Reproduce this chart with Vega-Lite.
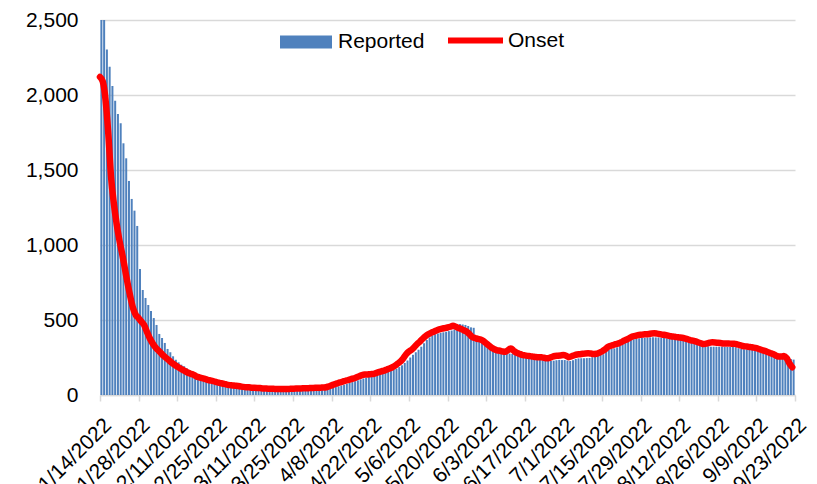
{
  "$schema": "https://vega.github.io/schema/vega-lite/v6.json",
  "width": 695,
  "height": 375,
  "autosize": "none",
  "padding": {"left": 100, "top": 20, "right": 22, "bottom": 89},
  "background": "white",
  "config": {"view": {"stroke": null}, "font": "Liberation Sans"},
  "data": {"values": [
    {"date":"2022/01/14","reported":2650,"onset":2120},
    {"date":"2022/01/15","reported":2560,"onset":2090},
    {"date":"2022/01/16","reported":2304,"onset":1970},
    {"date":"2022/01/17","reported":2189,"onset":1745},
    {"date":"2022/01/18","reported":2060,"onset":1455},
    {"date":"2022/01/19","reported":1962,"onset":1280},
    {"date":"2022/01/20","reported":1873,"onset":1145},
    {"date":"2022/01/21","reported":1811,"onset":1035},
    {"date":"2022/01/22","reported":1678,"onset":945},
    {"date":"2022/01/23","reported":1578,"onset":845},
    {"date":"2022/01/24","reported":1427,"onset":745},
    {"date":"2022/01/25","reported":1307,"onset":655},
    {"date":"2022/01/26","reported":1229,"onset":578},
    {"date":"2022/01/27","reported":1127,"onset":533},
    {"date":"2022/01/28","reported":840,"onset":513},
    {"date":"2022/01/29","reported":700,"onset":489},
    {"date":"2022/01/30","reported":647,"onset":467},
    {"date":"2022/01/31","reported":600,"onset":422},
    {"date":"2022/02/01","reported":560,"onset":380},
    {"date":"2022/02/02","reported":513,"onset":347},
    {"date":"2022/02/03","reported":467,"onset":320},
    {"date":"2022/02/04","reported":407,"onset":300},
    {"date":"2022/02/05","reported":380,"onset":282},
    {"date":"2022/02/06","reported":347,"onset":262},
    {"date":"2022/02/07","reported":307,"onset":247},
    {"date":"2022/02/08","reported":285,"onset":232},
    {"date":"2022/02/09","reported":258,"onset":215},
    {"date":"2022/02/10","reported":235,"onset":202},
    {"date":"2022/02/11","reported":218,"onset":190},
    {"date":"2022/02/12","reported":202,"onset":178},
    {"date":"2022/02/13","reported":192,"onset":168},
    {"date":"2022/02/14","reported":178,"onset":158},
    {"date":"2022/02/15","reported":166,"onset":148},
    {"date":"2022/02/16","reported":156,"onset":141},
    {"date":"2022/02/17","reported":148,"onset":134},
    {"date":"2022/02/18","reported":140,"onset":124},
    {"date":"2022/02/19","reported":133,"onset":118},
    {"date":"2022/02/20","reported":127,"onset":113},
    {"date":"2022/02/21","reported":118,"onset":108},
    {"date":"2022/02/22","reported":108,"onset":101},
    {"date":"2022/02/23","reported":102,"onset":97},
    {"date":"2022/02/24","reported":97,"onset":93},
    {"date":"2022/02/25","reported":90,"onset":88},
    {"date":"2022/02/26","reported":85,"onset":82},
    {"date":"2022/02/27","reported":80,"onset":78},
    {"date":"2022/02/28","reported":76,"onset":74},
    {"date":"2022/03/01","reported":71,"onset":69},
    {"date":"2022/03/02","reported":67,"onset":66},
    {"date":"2022/03/03","reported":64,"onset":64},
    {"date":"2022/03/04","reported":61,"onset":62},
    {"date":"2022/03/05","reported":58,"onset":60},
    {"date":"2022/03/06","reported":56,"onset":57},
    {"date":"2022/03/07","reported":54,"onset":54},
    {"date":"2022/03/08","reported":52,"onset":52},
    {"date":"2022/03/09","reported":50,"onset":51},
    {"date":"2022/03/10","reported":48,"onset":49},
    {"date":"2022/03/11","reported":47,"onset":48},
    {"date":"2022/03/12","reported":46,"onset":47},
    {"date":"2022/03/13","reported":44,"onset":46},
    {"date":"2022/03/14","reported":43,"onset":44},
    {"date":"2022/03/15","reported":42,"onset":43},
    {"date":"2022/03/16","reported":41,"onset":42},
    {"date":"2022/03/17","reported":40,"onset":42},
    {"date":"2022/03/18","reported":40,"onset":41},
    {"date":"2022/03/19","reported":39,"onset":40},
    {"date":"2022/03/20","reported":38,"onset":40},
    {"date":"2022/03/21","reported":38,"onset":40},
    {"date":"2022/03/22","reported":38,"onset":40},
    {"date":"2022/03/23","reported":38,"onset":40},
    {"date":"2022/03/24","reported":39,"onset":41},
    {"date":"2022/03/25","reported":39,"onset":42},
    {"date":"2022/03/26","reported":39,"onset":43},
    {"date":"2022/03/27","reported":40,"onset":43},
    {"date":"2022/03/28","reported":40,"onset":44},
    {"date":"2022/03/29","reported":40,"onset":45},
    {"date":"2022/03/30","reported":41,"onset":45},
    {"date":"2022/03/31","reported":41,"onset":46},
    {"date":"2022/04/01","reported":42,"onset":47},
    {"date":"2022/04/02","reported":42,"onset":48},
    {"date":"2022/04/03","reported":43,"onset":48},
    {"date":"2022/04/04","reported":43,"onset":49},
    {"date":"2022/04/05","reported":44,"onset":50},
    {"date":"2022/04/06","reported":45,"onset":52},
    {"date":"2022/04/07","reported":47,"onset":58},
    {"date":"2022/04/08","reported":50,"onset":64},
    {"date":"2022/04/09","reported":54,"onset":72},
    {"date":"2022/04/10","reported":58,"onset":78},
    {"date":"2022/04/11","reported":63,"onset":84},
    {"date":"2022/04/12","reported":68,"onset":89},
    {"date":"2022/04/13","reported":74,"onset":95},
    {"date":"2022/04/14","reported":80,"onset":100},
    {"date":"2022/04/15","reported":86,"onset":106},
    {"date":"2022/04/16","reported":92,"onset":111},
    {"date":"2022/04/17","reported":98,"onset":118},
    {"date":"2022/04/18","reported":104,"onset":125},
    {"date":"2022/04/19","reported":110,"onset":132},
    {"date":"2022/04/20","reported":116,"onset":136},
    {"date":"2022/04/21","reported":120,"onset":137},
    {"date":"2022/04/22","reported":124,"onset":139},
    {"date":"2022/04/23","reported":128,"onset":140},
    {"date":"2022/04/24","reported":133,"onset":146},
    {"date":"2022/04/25","reported":138,"onset":152},
    {"date":"2022/04/26","reported":144,"onset":158},
    {"date":"2022/04/27","reported":150,"onset":163},
    {"date":"2022/04/28","reported":156,"onset":170},
    {"date":"2022/04/29","reported":162,"onset":177},
    {"date":"2022/04/30","reported":168,"onset":185},
    {"date":"2022/05/01","reported":176,"onset":196},
    {"date":"2022/05/02","reported":186,"onset":210},
    {"date":"2022/05/03","reported":198,"onset":224},
    {"date":"2022/05/04","reported":214,"onset":245},
    {"date":"2022/05/05","reported":230,"onset":272},
    {"date":"2022/05/06","reported":250,"onset":290},
    {"date":"2022/05/07","reported":268,"onset":302},
    {"date":"2022/05/08","reported":285,"onset":320},
    {"date":"2022/05/09","reported":302,"onset":340},
    {"date":"2022/05/10","reported":322,"onset":356},
    {"date":"2022/05/11","reported":345,"onset":375},
    {"date":"2022/05/12","reported":367,"onset":392},
    {"date":"2022/05/13","reported":384,"onset":405},
    {"date":"2022/05/14","reported":398,"onset":414},
    {"date":"2022/05/15","reported":405,"onset":422},
    {"date":"2022/05/16","reported":410,"onset":430},
    {"date":"2022/05/17","reported":414,"onset":437},
    {"date":"2022/05/18","reported":418,"onset":442},
    {"date":"2022/05/19","reported":422,"onset":446},
    {"date":"2022/05/20","reported":426,"onset":450},
    {"date":"2022/05/21","reported":430,"onset":455},
    {"date":"2022/05/22","reported":436,"onset":462},
    {"date":"2022/05/23","reported":462,"onset":455},
    {"date":"2022/05/24","reported":473,"onset":447},
    {"date":"2022/05/25","reported":470,"onset":440},
    {"date":"2022/05/26","reported":467,"onset":430},
    {"date":"2022/05/27","reported":460,"onset":422},
    {"date":"2022/05/28","reported":451,"onset":405},
    {"date":"2022/05/29","reported":448,"onset":386},
    {"date":"2022/05/30","reported":380,"onset":380},
    {"date":"2022/05/31","reported":367,"onset":374},
    {"date":"2022/06/01","reported":362,"onset":370},
    {"date":"2022/06/02","reported":352,"onset":360},
    {"date":"2022/06/03","reported":338,"onset":345},
    {"date":"2022/06/04","reported":322,"onset":330},
    {"date":"2022/06/05","reported":306,"onset":315},
    {"date":"2022/06/06","reported":298,"onset":305},
    {"date":"2022/06/07","reported":288,"onset":298},
    {"date":"2022/06/08","reported":282,"onset":295},
    {"date":"2022/06/09","reported":278,"onset":290},
    {"date":"2022/06/10","reported":277,"onset":289},
    {"date":"2022/06/11","reported":276,"onset":300},
    {"date":"2022/06/12","reported":274,"onset":310},
    {"date":"2022/06/13","reported":272,"onset":295},
    {"date":"2022/06/14","reported":268,"onset":282},
    {"date":"2022/06/15","reported":263,"onset":275},
    {"date":"2022/06/16","reported":258,"onset":268},
    {"date":"2022/06/17","reported":252,"onset":264},
    {"date":"2022/06/18","reported":246,"onset":261},
    {"date":"2022/06/19","reported":243,"onset":259},
    {"date":"2022/06/20","reported":240,"onset":256},
    {"date":"2022/06/21","reported":237,"onset":253},
    {"date":"2022/06/22","reported":235,"onset":252},
    {"date":"2022/06/23","reported":232,"onset":251},
    {"date":"2022/06/24","reported":228,"onset":248},
    {"date":"2022/06/25","reported":228,"onset":245},
    {"date":"2022/06/26","reported":227,"onset":248},
    {"date":"2022/06/27","reported":229,"onset":255},
    {"date":"2022/06/28","reported":232,"onset":260},
    {"date":"2022/06/29","reported":234,"onset":262},
    {"date":"2022/06/30","reported":233,"onset":264},
    {"date":"2022/07/01","reported":233,"onset":266},
    {"date":"2022/07/02","reported":230,"onset":262},
    {"date":"2022/07/03","reported":227,"onset":252},
    {"date":"2022/07/04","reported":232,"onset":258},
    {"date":"2022/07/05","reported":240,"onset":265},
    {"date":"2022/07/06","reported":244,"onset":270},
    {"date":"2022/07/07","reported":245,"onset":272},
    {"date":"2022/07/08","reported":245,"onset":275},
    {"date":"2022/07/09","reported":246,"onset":277},
    {"date":"2022/07/10","reported":247,"onset":278},
    {"date":"2022/07/11","reported":252,"onset":276},
    {"date":"2022/07/12","reported":262,"onset":274},
    {"date":"2022/07/13","reported":267,"onset":275},
    {"date":"2022/07/14","reported":268,"onset":282},
    {"date":"2022/07/15","reported":272,"onset":290},
    {"date":"2022/07/16","reported":290,"onset":302},
    {"date":"2022/07/17","reported":300,"onset":318},
    {"date":"2022/07/18","reported":308,"onset":327},
    {"date":"2022/07/19","reported":311,"onset":333},
    {"date":"2022/07/20","reported":318,"onset":339},
    {"date":"2022/07/21","reported":327,"onset":344},
    {"date":"2022/07/22","reported":336,"onset":352},
    {"date":"2022/07/23","reported":348,"onset":362},
    {"date":"2022/07/24","reported":358,"onset":370},
    {"date":"2022/07/25","reported":368,"onset":380},
    {"date":"2022/07/26","reported":372,"onset":390},
    {"date":"2022/07/27","reported":376,"onset":394},
    {"date":"2022/07/28","reported":378,"onset":399},
    {"date":"2022/07/29","reported":380,"onset":402},
    {"date":"2022/07/30","reported":382,"onset":404},
    {"date":"2022/07/31","reported":384,"onset":405},
    {"date":"2022/08/01","reported":384,"onset":407},
    {"date":"2022/08/02","reported":385,"onset":410},
    {"date":"2022/08/03","reported":384,"onset":411},
    {"date":"2022/08/04","reported":384,"onset":409},
    {"date":"2022/08/05","reported":382,"onset":406},
    {"date":"2022/08/06","reported":380,"onset":402},
    {"date":"2022/08/07","reported":378,"onset":400},
    {"date":"2022/08/08","reported":378,"onset":396},
    {"date":"2022/08/09","reported":378,"onset":392},
    {"date":"2022/08/10","reported":377,"onset":389},
    {"date":"2022/08/11","reported":376,"onset":386},
    {"date":"2022/08/12","reported":374,"onset":384},
    {"date":"2022/08/13","reported":370,"onset":382},
    {"date":"2022/08/14","reported":367,"onset":378},
    {"date":"2022/08/15","reported":364,"onset":372},
    {"date":"2022/08/16","reported":360,"onset":366},
    {"date":"2022/08/17","reported":350,"onset":362},
    {"date":"2022/08/18","reported":342,"onset":357},
    {"date":"2022/08/19","reported":338,"onset":350},
    {"date":"2022/08/20","reported":336,"onset":344},
    {"date":"2022/08/21","reported":330,"onset":340},
    {"date":"2022/08/22","reported":325,"onset":343},
    {"date":"2022/08/23","reported":322,"onset":348},
    {"date":"2022/08/24","reported":322,"onset":351},
    {"date":"2022/08/25","reported":322,"onset":350},
    {"date":"2022/08/26","reported":322,"onset":348},
    {"date":"2022/08/27","reported":322,"onset":346},
    {"date":"2022/08/28","reported":321,"onset":344},
    {"date":"2022/08/29","reported":320,"onset":343},
    {"date":"2022/08/30","reported":320,"onset":343},
    {"date":"2022/08/31","reported":320,"onset":342},
    {"date":"2022/09/01","reported":319,"onset":342},
    {"date":"2022/09/02","reported":312,"onset":338},
    {"date":"2022/09/03","reported":308,"onset":332},
    {"date":"2022/09/04","reported":305,"onset":327},
    {"date":"2022/09/05","reported":304,"onset":324},
    {"date":"2022/09/06","reported":303,"onset":322},
    {"date":"2022/09/07","reported":302,"onset":319},
    {"date":"2022/09/08","reported":300,"onset":316},
    {"date":"2022/09/09","reported":296,"onset":312},
    {"date":"2022/09/10","reported":290,"onset":306},
    {"date":"2022/09/11","reported":284,"onset":300},
    {"date":"2022/09/12","reported":278,"onset":294},
    {"date":"2022/09/13","reported":272,"onset":287},
    {"date":"2022/09/14","reported":266,"onset":280},
    {"date":"2022/09/15","reported":260,"onset":273},
    {"date":"2022/09/16","reported":255,"onset":264},
    {"date":"2022/09/17","reported":252,"onset":257},
    {"date":"2022/09/18","reported":250,"onset":256},
    {"date":"2022/09/19","reported":248,"onset":260},
    {"date":"2022/09/20","reported":246,"onset":245},
    {"date":"2022/09/21","reported":240,"onset":210},
    {"date":"2022/09/22","reported":236,"onset":185}
  ]},
  "encoding": {
    "x": {
      "field": "date",
      "type": "temporal",
      "timeUnit": "yearmonthdate",
      "title": null,
      "scale": {"domain": [{"year": 2022, "month": 1, "date": 14}, {"year": 2022, "month": 9, "date": 23}]},
      "axis": {
        "values": [
          {"year": 2022, "month": 1, "date": 14}, {"year": 2022, "month": 1, "date": 28},
          {"year": 2022, "month": 2, "date": 11}, {"year": 2022, "month": 2, "date": 25},
          {"year": 2022, "month": 3, "date": 11}, {"year": 2022, "month": 3, "date": 25},
          {"year": 2022, "month": 4, "date": 8}, {"year": 2022, "month": 4, "date": 22},
          {"year": 2022, "month": 5, "date": 6}, {"year": 2022, "month": 5, "date": 20},
          {"year": 2022, "month": 6, "date": 3}, {"year": 2022, "month": 6, "date": 17},
          {"year": 2022, "month": 7, "date": 1}, {"year": 2022, "month": 7, "date": 15},
          {"year": 2022, "month": 7, "date": 29}, {"year": 2022, "month": 8, "date": 12},
          {"year": 2022, "month": 8, "date": 26}, {"year": 2022, "month": 9, "date": 9},
          {"year": 2022, "month": 9, "date": 23}
        ],
        "format": "%-m/%-d/%Y",
        "labelAngle": -45,
        "labelAlign": "right",
        "labelBaseline": "top",
        "labelFontSize": 21,
        "labelColor": "#000000",
        "labelPadding": 13,
        "labelOverlap": false,
        "labelBound": false,
        "labelFlush": false,
        "domainColor": "#d9d9d9",
        "domainWidth": 1.5,
        "tickColor": "#d9d9d9",
        "tickWidth": 1.5,
        "tickSize": 6,
        "grid": false
      }
    }
  },
  "layer": [
    {
      "mark": {"type": "bar", "clip": true, "width": 2},
      "encoding": {
        "y": {
          "field": "reported",
          "type": "quantitative",
          "title": null,
          "scale": {"domain": [0, 2500], "nice": false},
          "axis": {
            "values": [0, 500, 1000, 1500, 2000, 2500],
            "format": ",d",
            "grid": true,
            "gridColor": "#d9d9d9",
            "gridWidth": 1.5,
            "domain": false,
            "ticks": false,
            "tickSize": 0,
            "labelPadding": 22,
            "labelFontSize": 21,
            "labelColor": "#000000"
          }
        },
        "fill": {
          "datum": "Reported",
          "scale": {"domain": ["Reported"], "range": ["#4F81BD"]},
          "legend": {
            "orient": "none",
            "legendX": 180,
            "legendY": -4,
            "title": null,
            "padding": 0,
            "symbolType": "M-1,-0.25L1,-0.25L1,0.25L-1,0.25Z",
            "symbolSize": 2704,
            "symbolStrokeWidth": 0,
            "labelFontSize": 21,
            "labelColor": "#000000",
            "labelOffset": 6
          }
        }
      }
    },
    {
      "mark": {"type": "line", "strokeWidth": 6.5, "strokeCap": "round", "strokeJoin": "round", "interpolate": "monotone", "timeUnitBandPosition": 0.5},
      "encoding": {
        "y": {"field": "onset", "type": "quantitative", "title": null},
        "stroke": {
          "datum": "Onset",
          "scale": {"domain": ["Onset"], "range": ["#FF0000"]},
          "legend": {
            "orient": "none",
            "legendX": 345,
            "legendY": -10,
            "title": null,
            "padding": 0,
            "symbolType": "stroke",
            "symbolSize": 3025,
            "symbolStrokeWidth": 6,
            "labelFontSize": 21,
            "labelColor": "#000000",
            "labelOffset": 2
          }
        }
      }
    }
  ]
}
